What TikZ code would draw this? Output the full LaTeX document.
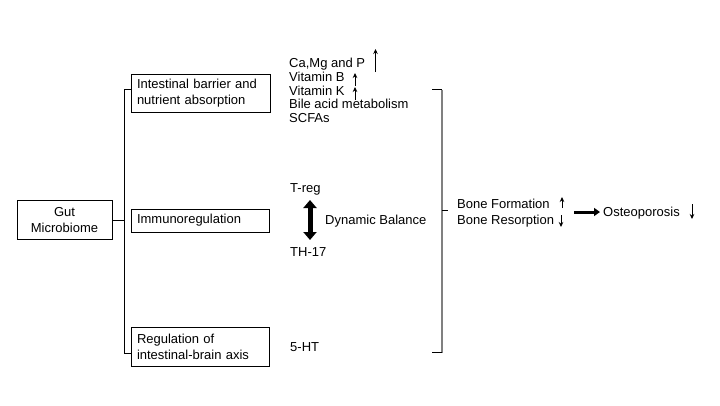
\documentclass[tikz,border=0pt]{standalone}
\usepackage{fontspec}
\setmainfont{Liberation Sans}
\usetikzlibrary{arrows.meta}
\begin{document}
\begin{tikzpicture}[x=1pt,y=-1pt,
  every node/.style={font=\fontsize{13}{16}\selectfont},
  box/.style={draw, line width=0.8pt, inner xsep=6pt, inner ysep=0pt, align=left},
  txt/.style={anchor=base west, inner sep=0pt},
  link/.style={line width=0.8pt},
  brk/.style={draw=black!50, line width=2pt},
  up/.style={line width=0.8pt, -{Stealth[length=5pt,width=4.5pt]}},
  bigarrow/.style={line width=3pt, -{Triangle[length=6pt,width=8pt]}, shorten >=3pt},
  dbl/.style={line width=5pt, {Triangle[length=8pt,width=13pt]}-{Triangle[length=8pt,width=13pt]}}]
\useasboundingbox[fill=white] (0,0) rectangle (720,405);

% left boxes
\node[box, align=center, minimum width=95pt, minimum height=39pt] (gut) at (64.5,220) {Gut\\Microbiome};
\node[box, minimum width=139pt, minimum height=38pt, text width=127pt] (b1) at (200.5,93) {Intestinal barrier and\\nutrient absorption};
\node[box, minimum width=138pt, minimum height=23pt, text width=126pt] (b2) at (200,220.5) {Immunoregulation};
\node[box, minimum width=138pt, minimum height=39pt, text width=126pt] (b3) at (200,346.5) {Regulation of\\intestinal-brain axis};

% trunk
\coordinate (t1) at (124,89);
\coordinate (t2) at (124,353);
\draw[link] (t1 -| b1.west) -- (t1) -- (t2) -- (t2 -| b3.west);
\draw[link] (gut.east) -- (gut.east -| t1);

% right column
\node[txt] (ca) at (289,67) {Ca,Mg and P};
\node[txt] (vb) at (289,81) {Vitamin B};
\node[txt] (vk) at (289,95) {Vitamin K};
\node[txt] (bile) at (289,108.5) {Bile acid metabolism};
\node[txt] (scfa) at (289,122) {SCFAs};
\coordinate (a1s) at (375.5,72); \coordinate (a1e) at (375.5,49);
\coordinate (a2s) at (355,86); \coordinate (a2e) at (355,73);
\coordinate (a3s) at (355,100); \coordinate (a3e) at (355,87);
\draw[up] (a1s) -- (a1e);
\draw[up] (a2s) -- (a2e);
\draw[up] (a3s) -- (a3e);

\node[txt] (treg) at (290,192.5) {T-reg};
\node[txt] (th) at (290,256) {TH-17};
\node[txt] (dyn) at (325,224.5) {Dynamic Balance};
\coordinate (d1) at (310,200);
\coordinate (d2) at (310,240);
\draw[dbl] (d1) -- (d2);

\node[txt] (ht) at (290,351.5) {5-HT};

% bracket
\coordinate (g1) at (432,89.5);
\coordinate (g2) at (442,89.5);
\coordinate (g3) at (442,352.5);
\coordinate (g4) at (432,352.5);
\coordinate (gm) at (442,210);
\coordinate (gt) at (448,210);
\draw[brk] (g2) -- (g3);
\draw[link] (g1) -- (g2);
\draw[link] (g3) -- (g4);
\draw[link] (gm) -- (gt);

% bone
\node[txt] (bf) at (457,208.5) {Bone Formation};
\node[txt] (br) at (457,224.5) {Bone Resorption};
\coordinate (u1) at (562,208); \coordinate (u2) at (562,197);
\coordinate (v1) at (561,215); \coordinate (v2) at (561,227);
\draw[up] (u1) -- (u2);
\draw[up] (v1) -- (v2);

\node[txt] (ost) at (603,216.5) {Osteoporosis};
\coordinate (b0) at (574,212);
\draw[bigarrow] (b0) -- (ost.west |- b0);
\coordinate (o1) at (692,204); \coordinate (o2) at (692,219);
\draw[up] (o1) -- (o2);
\end{tikzpicture}
\end{document}
